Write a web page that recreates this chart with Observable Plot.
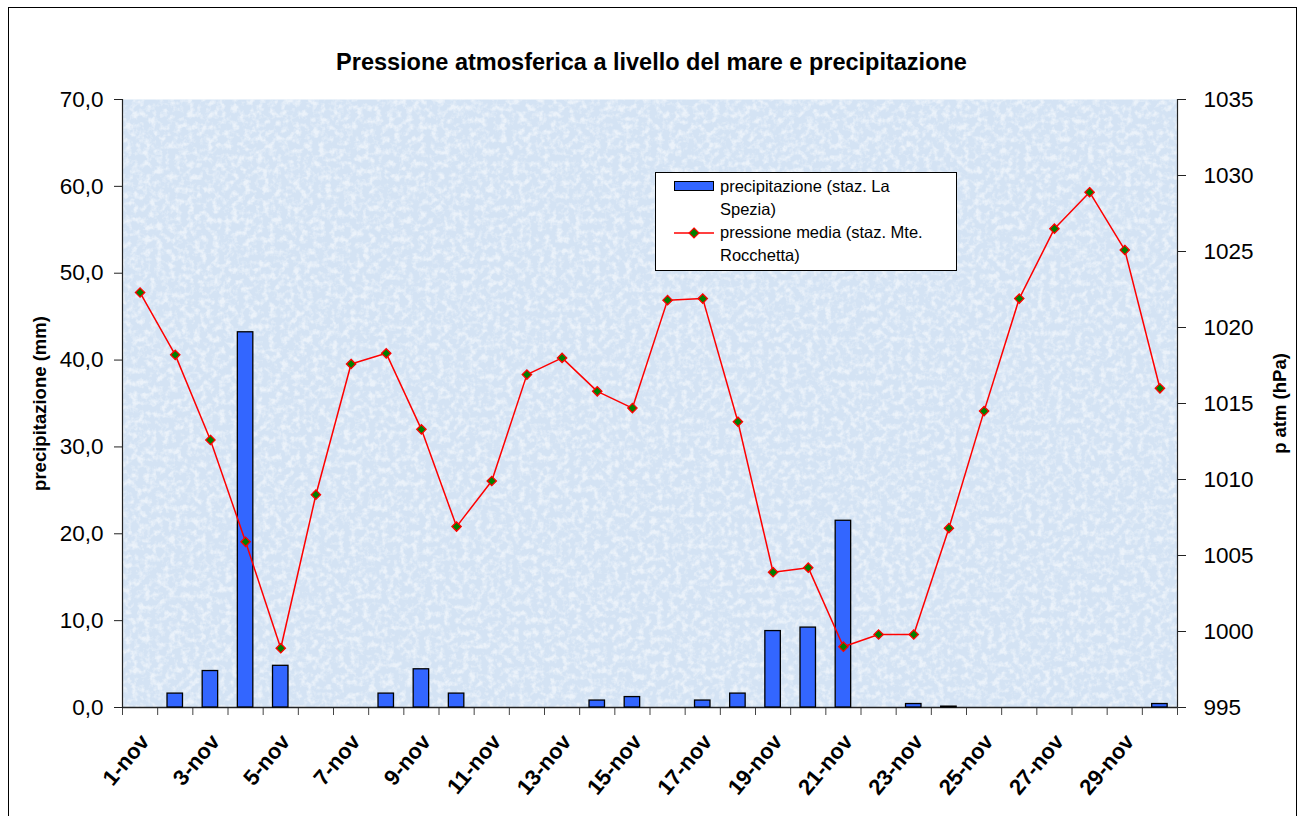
<!DOCTYPE html>
<html>
<head>
<meta charset="utf-8">
<script src="https://cdn.jsdelivr.net/npm/d3@7"></script>
<script src="https://cdn.jsdelivr.net/npm/@observablehq/plot@0.6"></script>
<style>
  html, body { margin: 0; padding: 0; background: white; }
  #wrap { position: relative; width: 1303px; height: 816px; overflow: hidden; font-family: "Liberation Sans", Arial, sans-serif; }
  #border { position: absolute; left: 8px; top: 7px; width: 1287px; height: 840px; border: 1.5px solid #000; pointer-events: none; }
  #title { position: absolute; left: 0; width: 1303px; top: 49px; text-align: center; font-weight: bold; font-size: 23.5px; color: #000; }
  #chart { position: absolute; left: 0; top: 80px; }
  #legend { position: absolute; left: 655px; top: 172px; width: 300px; height: 97px; background: #fff; border: 1px solid #000; font-size: 16.5px; color: #000; }
  #legend .txt { position: absolute; left: 64px; line-height: 22.5px; white-space: nowrap; }
  #legend .sw { position: absolute; left: 18px; top: 8px; width: 38px; height: 8px; background: #3366ff; border: 1.5px solid #000; }
  #legend svg { position: absolute; left: 16px; top: 52px; }
</style>
</head>
<body>
<div id="wrap">
  <div id="title">Pressione atmosferica a livello del mare e precipitazione</div>
  <div id="chart"></div>
  <div id="legend">
    <div class="sw"></div>
    <div class="txt" style="top:2px">precipitazione (staz. La<br>Spezia)</div>
    <svg width="46" height="16"><line x1="2" y1="8" x2="42" y2="8" stroke="#ff0000" stroke-width="1.5"/><path d="M22,3 L27,8 L22,13 L17,8 Z" fill="#008000" stroke="#ff0000" stroke-width="1.2"/></svg>
    <div class="txt" style="top:48px">pressione media (staz. Mte.<br>Rocchetta)</div>
  </div>
  <div id="border"></div>
</div>
<script>
// ---- data ----
const days = d3.range(1, 31);
const precipitation = [0, 1.6, 4.2, 43.2, 4.8, 0, 0, 1.6, 4.4, 1.6,
                       0, 0, 0, 0.8, 1.2, 0, 0.8, 1.6, 8.8, 9.2,
                       21.5, 0, 0.4, 0.1, 0, 0, 0, 0, 0, 0.4];
const pressure = [1022.3, 1018.2, 1012.6, 1005.9, 998.9, 1009.0, 1017.6, 1018.3, 1013.3, 1006.9,
                  1009.9, 1016.9, 1018.0, 1015.8, 1014.7, 1021.8, 1021.9, 1013.8, 1003.9, 1004.2,
                  999.0, 999.8, 999.8, 1006.8, 1014.5, 1021.9, 1026.5, 1028.9, 1025.1, 1016.0];
const precipTicks = [0, 10, 20, 30, 40, 50, 60, 70];
const pressureTicks = [995, 1000, 1005, 1010, 1015, 1020, 1025, 1030, 1035];
const labelDays = [1, 3, 5, 7, 9, 11, 13, 15, 17, 19, 21, 23, 25, 27, 29];
const monthAbbr = "nov";
const leftTitle = "precipitazione (mm)";
const rightTitle = "p atm (hPa)";

// secondary axis mapping: pressure [995,1035] -> precipitation scale [0,70]
const pMin = 995, pMax = 1035, yMax = 70;
const pToY = p => (p - pMin) * yMax / (pMax - pMin);
const yToP = y => pMin + y * (pMax - pMin) / yMax;

const rows = days.map((d, i) => ({day: d, prec: precipitation[i], pres: pressure[i]}));
const boundaries = d3.range(0, days.length + 1).map(i => i + 0.5);
const barHalf = 0.22;

const font = "Liberation Sans, Arial, sans-serif";

const plot = Plot.plot({
  width: 1303,
  height: 736,
  marginLeft: 122,
  marginRight: 126,
  marginTop: 19,
  marginBottom: 109,
  style: {background: "transparent", fontFamily: font, color: "#000"},
  x: {type: "linear", domain: [0.5, days.length + 0.5], axis: null},
  y: {domain: [0, yMax], axis: null},
  marks: [
    Plot.frame({fill: "#d4e3f4", stroke: "none"}),
    // left axis
    Plot.axisY({anchor: "left", ticks: precipTicks, tickSize: 8, tickPadding: 11,
      tickFormat: d => d.toFixed(1).replace(".", ","), fontSize: 22.5, stroke: "#222",
      label: null}),
    Plot.text([leftTitle], {frameAnchor: "left", textAnchor: "middle", rotate: -90, dx: -82,
      fontSize: 18.5, fontWeight: "bold", fill: "#000"}),
    // right axis (pressure)
    Plot.axisY({anchor: "right", ticks: pressureTicks.map(pToY), tickSize: 8, tickPadding: 18,
      tickFormat: y => String(Math.round(yToP(y))), fontSize: 22.5, stroke: "#222", label: null}),
    Plot.text([rightTitle], {frameAnchor: "right", textAnchor: "middle", rotate: -90, dx: 103,
      fontSize: 18.5, fontWeight: "bold", fill: "#000"}),
    // x ticks at category boundaries
    Plot.axisX({ticks: boundaries, tickSize: 8, text: null, stroke: "#444", label: null}),
    // x labels at odd days
    Plot.axisX({ticks: labelDays, tickSize: 0, tickPadding: 30, tickRotate: -50, dx: 5,
      tickFormat: d => `${d}-${monthAbbr}`, fontSize: 22, fontWeight: "bold", label: null}),
    // axis lines
    Plot.ruleX([0.5, days.length + 0.5], {stroke: "#222", strokeWidth: 1.2}),
    Plot.ruleY([0], {stroke: "#222", strokeWidth: 1.5}),
    // bars
    Plot.rectY(rows.filter(r => r.prec > 0), {x1: r => r.day - barHalf, x2: r => r.day + barHalf, y1: 0, y2: "prec",
      fill: "#3366ff", stroke: "#000", strokeWidth: 1.3}),
    // pressure line
    Plot.line(rows, {x: "day", y: r => pToY(r.pres), stroke: "#ff0000", strokeWidth: 1.5}),
    Plot.dot(rows, {x: "day", y: r => pToY(r.pres), symbol: "diamond2", r: 4.2, fill: "#008000", stroke: "#ff0000", strokeWidth: 1.3})
  ]
});

// add a subtle speckled texture to the plot background
(function addTexture(svg) {
  const ns = "http://www.w3.org/2000/svg";
  const defs = document.createElementNS(ns, "defs");
  defs.innerHTML = `<filter id="tex" x="0" y="0" width="100%" height="100%">
     <feTurbulence type="fractalNoise" baseFrequency="0.16" numOctaves="3" seed="7" result="n"/>
     <feColorMatrix in="n" type="matrix" values="0 0 0 0 1  0 0 0 0 1  0 0 0 0 1  0 0 0 3 -1.3" result="w"/>
     <feComposite in="w" in2="SourceGraphic" operator="in"/>
   </filter>`;
  svg.insertBefore(defs, svg.firstChild);
  const frame = svg.querySelector('[aria-label="frame"]');
  if (frame) {
    const rect = frame.tagName === "rect" ? frame : frame.querySelector("rect");
    if (rect) {
      const c = rect.cloneNode(true);
      c.setAttribute("fill", "#ffffff");
      c.setAttribute("filter", "url(#tex)");
      c.setAttribute("opacity", "0.55");
      rect.parentNode.insertBefore(c, rect.nextSibling);
    }
  }
})(plot);

document.getElementById("chart").appendChild(plot);
</script>
</body>
</html>
